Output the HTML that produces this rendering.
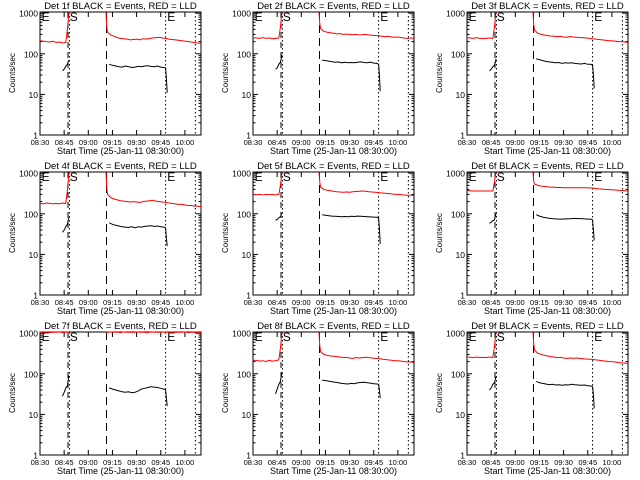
<!DOCTYPE html>
<html><head><meta charset="utf-8"><title>Det panels</title>
<style>
html,body{margin:0;padding:0;background:#fff;}
svg{display:block;}
text{font-family:"Liberation Sans",sans-serif;fill:#000;}
</style></head>
<body>
<svg id="chart" width="640" height="480" viewBox="0 0 640 480"></svg>
<script>
// minutes after 08:30
const xTickLabels = ["08:30","08:45","09:00","09:15","09:30","09:45","10:00"];
const xTickMinutes = [0,15,30,45,60,75,90];
const yTickValues = [1,10,100,1000];
const yTickLabels = ["1","10","100","1000"];
const eventTimes = [17.4,18.3,41.3,78,96.5];
const redPreT = [0,2,4,6,8,10,12,14,16,17,18];
const redPostT = [41,41.5,42,44,46,48,50,52,54,56,58,60,62,64,66,68,70,72,74,76,78,80,82,84,86,88,90,92,94,96,98,100];
const blackPreT = [14,15,16,17,17.5,18];
const blackPostT = [43,45,47,49,51,53,55,57,59,61,63,65,67,69,71,73,75,77,78,78.5,79];
const detNames = ["1f","2f","3f","4f","5f","6f","7f","8f","9f"];
const redPre = [
 [210,205,200,195,205,190,195,185,190,400,1500],
 [250,245,240,250,240,245,235,240,245,450,1500],
 [250,245,240,250,240,235,240,245,240,450,1500],
 [180,175,185,180,175,180,175,185,180,380,1500],
 [300,295,300,290,300,295,300,290,300,500,1500],
 [380,370,365,365,365,365,365,365,365,600,1500],
 [1060,1050,1070,1040,1060,1050,1070,1040,1060,1080,1500],
 [210,215,205,210,200,215,205,210,220,420,1500],
 [260,255,250,260,250,255,250,260,250,460,1500]
];
const redPost = [
 [1500,450,340,290,270,250,240,235,230,220,225,230,220,235,230,240,245,250,255,245,240,230,225,220,215,210,205,200,195,190,185,180],
 [1500,550,420,360,340,330,320,310,315,300,305,300,295,300,290,295,300,290,285,280,280,270,265,270,260,255,260,250,245,240,245,240],
 [1500,500,380,320,300,290,280,275,270,265,270,260,255,265,260,255,250,250,245,240,235,230,225,220,215,210,210,205,200,200,195,190],
 [1500,420,300,250,230,220,210,205,200,195,200,195,190,200,205,210,215,205,200,195,190,185,180,175,170,170,165,160,160,155,155,150],
 [1500,600,450,400,380,370,360,350,345,340,345,340,350,355,360,365,360,350,345,340,330,325,320,315,310,300,300,295,290,285,285,280],
 [1500,620,540,500,480,470,460,455,450,445,445,440,440,440,440,440,440,440,440,435,430,420,410,405,400,395,390,385,380,375,370,365],
 [1500,1080,1060,1070,1050,1065,1040,1070,1055,1060,1045,1070,1050,1065,1040,1060,1070,1050,1060,1080,1065,1050,1070,1045,1060,1050,1070,1040,1060,1050,1065,1045],
 [1500,480,350,300,285,275,270,265,260,250,255,245,240,250,245,250,255,250,245,240,240,230,225,220,215,210,210,205,200,195,195,190],
 [1500,520,380,320,300,285,275,265,260,250,255,245,240,245,240,245,240,235,230,230,225,220,215,210,205,200,200,195,190,185,185,180]
];
const blackPre = [
 [38,42,50,55,65,70],
 [42,45,55,62,75,95],
 [38,42,48,52,60,75],
 [35,40,48,55,70,80],
 [70,72,80,85,95,105],
 [58,62,68,70,85,100],
 [28,35,45,50,70,90],
 [32,42,55,65,85,105],
 [40,45,55,60,70,85]
];
const blackPost = [
 [55,52,50,48,47,50,48,46,47,49,48,50,51,49,48,50,47,46,45,25,11],
 [70,68,66,64,62,63,60,62,60,61,60,62,63,61,60,62,59,58,55,30,12],
 [75,72,68,65,63,62,60,61,58,60,59,60,58,57,56,58,55,55,52,30,14],
 [60,55,52,50,48,47,46,48,45,48,47,49,50,51,49,50,48,47,45,25,16],
 [95,92,90,88,87,86,85,86,85,87,86,88,87,86,85,84,83,82,78,45,18],
 [95,88,83,80,78,76,75,74,74,75,75,76,77,76,76,75,74,74,70,40,22],
 [45,42,40,38,36,35,36,34,35,38,42,44,46,48,47,46,44,42,40,25,16],
 [70,68,66,64,62,60,58,57,56,58,57,60,61,62,60,59,57,56,55,40,25],
 [65,60,58,56,54,55,53,54,52,54,53,55,54,53,52,53,51,50,48,30,14]
];

const NS = "http://www.w3.org/2000/svg";
const svg = document.getElementById("chart");
const BOX = {l:40, r:201, t:12, b:135};
const XMAX = 100;
function xs(t){ return BOX.l + t*(BOX.r-BOX.l)/XMAX; }
function ys(v){ return BOX.b - Math.log10(v)*40.6; }
function mk(tag, attrs, parent){
  const e = document.createElementNS(NS, tag);
  for (const k in attrs) e.setAttribute(k, attrs[k]);
  parent.appendChild(e);
  return e;
}
function clipY(v){ return Math.max(ys(v), BOX.t); }
function pts(ts, vs){
  const n = Math.min(ts.length, vs.length);
  let s = [];
  for (let i=0;i<n;i++) s.push(xs(ts[i]).toFixed(1)+","+clipY(vs[i]).toFixed(1));
  return s.join(" ");
}

for (let p=0;p<9;p++){
  const col = p%3, row = Math.floor(p/3);
  const g = mk("g", {transform:"translate("+[0,213,427][col]+","+(row*160)+")"}, svg);
  
  

  const title = mk("text", {x:120.5, y:9, "text-anchor":"middle", style:"font-size:9.5px"}, g);
  title.textContent = "Det "+detNames[p]+" BLACK = Events, RED = LLD";
  
  

  const box = mk("rect", {x:BOX.l, y:BOX.t, width:BOX.r-BOX.l, height:BOX.b-BOX.t, fill:"none", stroke:"#000", "stroke-width":1}, g);
  
  

  for (let i=0;i<yTickValues.length;i++){
    const y = ys(yTickValues[i]);
    mk("line",{x1:BOX.l,x2:BOX.l+5,y1:y,y2:y,stroke:"#000"},g);
    mk("line",{x1:BOX.r,x2:BOX.r-5,y1:y,y2:y,stroke:"#000"},g);
    const tl = mk("text",{x:BOX.l-2,y:y+3.5,"text-anchor":"end",style:"font-size:8.5px"},g);
    tl.textContent = yTickLabels[i];
    
    
    if (i<yTickValues.length-1){
      for (let m=2;m<=9;m++){
        const ym = ys(yTickValues[i]*m);
        if (ym < BOX.t) continue;
        mk("line",{x1:BOX.l,x2:BOX.l+2.5,y1:ym,y2:ym,stroke:"#000"},g);
        mk("line",{x1:BOX.r,x2:BOX.r-2.5,y1:ym,y2:ym,stroke:"#000"},g);
      }
    }
  }
  for (let i=0;i<xTickMinutes.length;i++){
    const x = xs(xTickMinutes[i]);
    mk("line",{x1:x,x2:x,y1:BOX.b,y2:BOX.b-5,stroke:"#000"},g);
    mk("line",{x1:x,x2:x,y1:BOX.t,y2:BOX.t+5,stroke:"#000"},g);
    const tl = mk("text",{x:x,y:BOX.b+10,"text-anchor":"middle",style:"font-size:7.5px"},g);
    tl.textContent = xTickLabels[i];
    
    
  }
  const xt = mk("text",{x:120.5,y:154,"text-anchor":"middle",style:"font-size:9px"},g);
  xt.textContent = "Start Time (25-Jan-11 08:30:00)";
  
  
  const yt = mk("text",{x:0,y:0,"text-anchor":"middle",transform:"translate(15,73) rotate(-90)",style:"font-size:8px"},g);
  yt.textContent = "Counts/sec";
  
  

  const styles = ["6,4","1.5,2.5","8,5","1.5,2.5","1.5,2.5"];
  for (let i=0;i<eventTimes.length;i++){
    const x = xs(eventTimes[i]);
    const l = mk("line",{x1:x,x2:x,y1:BOX.t,y2:BOX.b,stroke:"#000","stroke-dasharray":styles[i]},g);
    
    
  }
  const letters = [["E",1],["S",18.5],["E",79]];
  for (const [c,t] of letters){
    const lt = mk("text",{x:xs(t),y:BOX.t+9,style:"font-size:12px"},g);
    lt.textContent = c;
    
    
  }

  const s1 = mk("polyline",{points:pts(redPreT, redPre[p]),fill:"none",stroke:"#f00","stroke-width":1},g);
  
  
  const s2 = mk("polyline",{points:pts(redPostT, redPost[p]),fill:"none",stroke:"#f00","stroke-width":1},g);
  
  
  const s3 = mk("polyline",{points:pts(blackPreT, blackPre[p]),fill:"none",stroke:"#000","stroke-width":1},g);
  
  
  const s4 = mk("polyline",{points:pts(blackPostT, blackPost[p]),fill:"none",stroke:"#000","stroke-width":1},g);
  
  
}
</script>
</body></html>
